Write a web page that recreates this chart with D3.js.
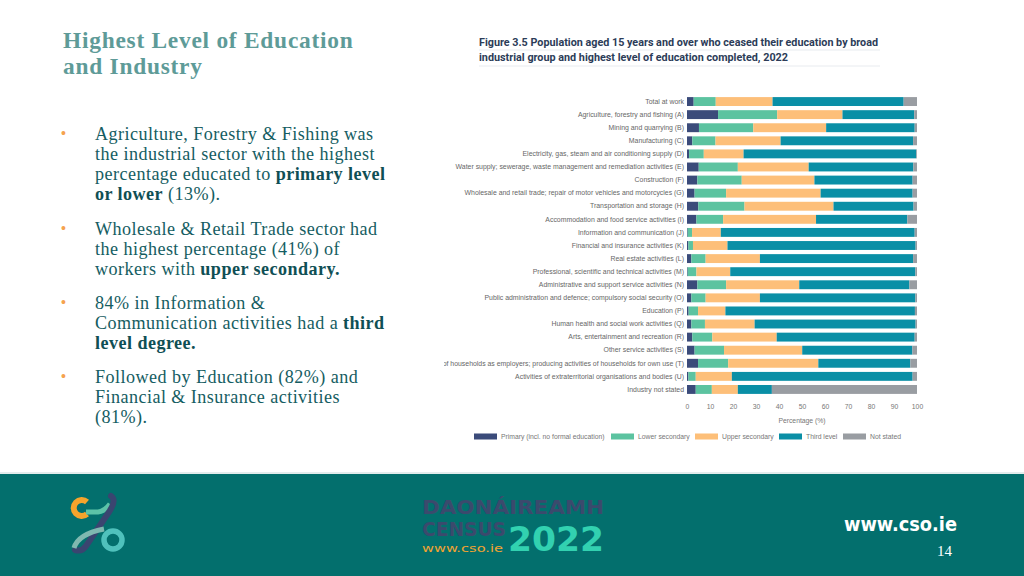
<!DOCTYPE html>
<html><head><meta charset="utf-8">
<script src="https://cdn.jsdelivr.net/npm/d3@7"></script>
<style>
html,body{margin:0;padding:0;background:#fff;}
svg{display:block;}
</style></head>
<body>
<svg id="c" width="1024" height="576"></svg>
<script>
const categories = [
 "Total at work",
 "Agriculture, forestry and fishing (A)",
 "Mining and quarrying (B)",
 "Manufacturing (C)",
 "Electricity, gas, steam and air conditioning supply (D)",
 "Water supply; sewerage, waste management and remediation activities (E)",
 "Construction (F)",
 "Wholesale and retail trade; repair of motor vehicles and motorcycles (G)",
 "Transportation and storage (H)",
 "Accommodation and food service activities (I)",
 "Information and communication (J)",
 "Financial and insurance activities (K)",
 "Real estate activities (L)",
 "Professional, scientific and technical activities (M)",
 "Administrative and support service activities (N)",
 "Public administration and defence; compulsory social security (O)",
 "Education (P)",
 "Human health and social work activities (Q)",
 "Arts, entertainment and recreation (R)",
 "Other service activities (S)",
 "Activities of households as employers; producing activities of households for own use (T)",
 "Activities of extraterritorial organisations and bodies (U)",
 "Industry not stated"
];
const primary   = [2.9,13.5,5.2,2.3,0.9,5.1,4.5,3.3,4.9,4.1,0.3,0.6,1.9,0.3,4.5,1.9,0.7,1.9,2.3,3.3,4.8,0.6,3.8];
const lowerSec  = [9.6,25.7,23.6,10.1,6.4,17.0,19.3,13.7,20.1,11.6,1.9,2.0,6.2,3.8,12.5,6.2,4.1,5.9,8.7,12.8,13.1,3.2,7.0];
const upperSec  = [24.7,28.4,31.7,28.3,17.3,30.8,31.6,41.1,38.7,40.4,12.5,15.0,23.6,14.7,31.8,23.6,11.9,21.6,28.0,34.0,39.2,15.7,11.3];
const thirdLvl  = [57.0,31.2,38.5,57.6,75.1,45.5,42.7,40.0,34.8,39.7,84.3,81.8,66.6,80.5,47.9,67.6,82.4,70.0,60.0,47.9,40.0,78.6,14.8];
const notStated = [5.8,1.2,1.0,1.7,0.3,1.6,1.9,1.9,1.5,4.2,1.0,0.6,1.7,0.7,3.3,0.7,0.9,0.6,1.0,2.0,2.9,1.9,63.1];
const seriesNames = ["Primary (incl. no formal education)","Lower secondary","Upper secondary","Third level","Not stated"];
const seriesColors = ["#3b4b7a","#5cc3a0","#fdbf79","#0a8fa6","#999da2"];
const xTicks = [0,10,20,30,40,50,60,70,80,90,100];

const svg = d3.select("#c");

// ---------- Left text ----------
const teal = "#155d62";
svg.append("text").attr("x",63).attr("y",48).attr("font-family","'Liberation Serif',serif")
  .attr("font-weight","bold").attr("font-size",23.4).attr("letter-spacing",0.75).attr("fill","#5e9b98").text("Highest Level of Education");
svg.append("text").attr("x",63).attr("y",74).attr("font-family","'Liberation Serif',serif")
  .attr("font-weight","bold").attr("font-size",23.4).attr("letter-spacing",0.75).attr("fill","#5e9b98").text("and Industry");

const bullets = [
  {y:140, lines:[[["Agriculture, Forestry & Fishing was",0]],[["the industrial sector with the highest",0]],[["percentage educated to ",0],["primary level",1]],[["or lower",1],[" (13%).",0]]]},
  {y:235, lines:[[["Wholesale & Retail Trade sector had",0]],[["the highest percentage (41%) of",0]],[["workers with ",0],["upper secondary.",1]]]},
  {y:309, lines:[[["84% in Information &",0]],[["Communication activities had a ",0],["third",1]],[["level degree.",1]]]},
  {y:383, lines:[[["Followed by Education (82%) and",0]],[["Financial & Insurance activities",0]],[["(81%).",0]]]}
];
bullets.forEach(b=>{
  svg.append("text").attr("x",61).attr("y",b.y-2).attr("font-family","'Liberation Sans',sans-serif")
    .attr("font-size",14).attr("fill","#f5a24e").text("•");
  b.lines.forEach((ln,i)=>{
    const t = svg.append("text").attr("x",95).attr("y",b.y+i*20).attr("font-family","'Liberation Serif',serif")
      .attr("font-size",18.1).attr("letter-spacing",0.45).attr("fill",teal);
    ln.forEach(([s,bold])=>{
      t.append("tspan").attr("font-weight",bold?"bold":"normal").attr("fill",bold?"#0f4f55":teal).text(s);
    });
  });
});

// ---------- Chart title ----------
svg.append("text").attr("x",479).attr("y",46).attr("font-family","Roboto,sans-serif").attr("font-weight","bold")
  .attr("font-size",11).attr("fill","#2c3c58").attr("textLength",399).attr("lengthAdjust","spacingAndGlyphs")
  .text("Figure 3.5 Population aged 15 years and over who ceased their education by broad");
svg.append("text").attr("x",479).attr("y",61).attr("font-family","Roboto,sans-serif").attr("font-weight","bold")
  .attr("font-size",11).attr("fill","#2c3c58").attr("textLength",309).attr("lengthAdjust","spacingAndGlyphs")
  .text("industrial group and highest level of education completed, 2022");
svg.append("line").attr("x1",479).attr("x2",880).attr("y1",50).attr("y2",50).attr("stroke","#e8ebef");
svg.append("line").attr("x1",479).attr("x2",880).attr("y1",66).attr("y2",66).attr("stroke","#e8ebef");

// ---------- Chart ----------
const x = d3.scaleLinear().domain([0,100]).range([687,917]);
const y = d3.scaleBand().domain(categories).range([95,396]).paddingInner(0.32).paddingOuter(0.16);

const rows = categories.map((c,i)=>({cat:c, s0:primary[i], s1:lowerSec[i], s2:upperSec[i], s3:thirdLvl[i], s4:notStated[i]}));
const stack = d3.stack().keys(["s0","s1","s2","s3","s4"])(rows);

const g = svg.append("g");
g.selectAll("g.s").data(stack).join("g").attr("fill",(d,i)=>seriesColors[i])
  .selectAll("rect").data(d=>d).join("rect")
  .attr("x",d=>x(d[0])).attr("width",d=>Math.max(0,x(d[1])-x(d[0])))
  .attr("y",d=>y(d.data.cat)).attr("height",y.bandwidth());

// category labels via axis (clipped at left like the reference)
svg.append("clipPath").attr("id","lc").append("rect").attr("x",444).attr("y",80).attr("width",245).attr("height",330);
const yWrap = svg.append("g").attr("clip-path","url(#lc)");
const yAxis = yWrap.append("g").attr("transform","translate(684,0)")
  .call(d3.axisLeft(y).tickSize(0).tickPadding(0));
yAxis.select(".domain").remove();
yAxis.selectAll("text").attr("font-family","'Liberation Sans',Arial,sans-serif").attr("font-size",6.9).attr("fill","#666");

// x axis
const xAxis = svg.append("g").attr("transform","translate(0,399)")
  .call(d3.axisBottom(x).tickValues(xTicks).tickSize(0).tickPadding(5));
xAxis.select(".domain").remove();
xAxis.selectAll("text").attr("font-family","'Liberation Sans',Arial,sans-serif").attr("font-size",6.8).attr("fill","#777");
svg.append("text").attr("x",802).attr("y",423).attr("text-anchor","middle").attr("font-family","'Liberation Sans',Arial,sans-serif")
  .attr("font-size",6.8).attr("fill","#777").text("Percentage (%)");

// legend
const legX = [474,611,695,779,843];
const leg = svg.append("g");
seriesNames.forEach((n,i)=>{
  leg.append("rect").attr("x",legX[i]).attr("y",433.5).attr("width",23).attr("height",6).attr("fill",seriesColors[i]);
  leg.append("text").attr("x",legX[i]+27).attr("y",439.2).attr("font-family","'Liberation Sans',Arial,sans-serif")
    .attr("font-size",6.8).attr("fill","#777").text(n);
});

// ---------- Footer ----------
svg.append("rect").attr("x",0).attr("y",472).attr("width",1024).attr("height",2).attr("fill","#e3ecec");
svg.append("rect").attr("x",0).attr("y",474).attr("width",1024).attr("height",102).attr("fill","#036f6d");

// CSO logo (approximation)
const lg = svg.append("g");
lg.append("path").attr("d","M87,502 A8,8 0 1 0 87,514").attr("fill","none").attr("stroke","#f5a42c").attr("stroke-width",6);
lg.append("path").attr("d","M86,512 L98,512 Q105,511 110,504").attr("fill","none").attr("stroke","#5cc3a8").attr("stroke-width",5);
lg.append("path").attr("d","M111,496 Q117,500 109,512 L86,546 Q82,552 75,550").attr("fill","none").attr("stroke","#3a4570").attr("stroke-width",6).attr("stroke-linecap","round");
lg.append("path").attr("d","M74,548 Q78,534 104,529").attr("fill","none").attr("stroke","#7fb8b0").attr("stroke-width",5);
lg.append("circle").attr("cx",113).attr("cy",540).attr("r",9).attr("fill","none").attr("stroke","#4fc1bc").attr("stroke-width",5.5);

// Census logo
const cf = "'DejaVu Sans Condensed','DejaVu Sans',sans-serif";
svg.append("text").attr("x",422).attr("y",514).attr("font-family",cf).attr("font-weight","bold")
  .attr("font-size",20).attr("fill","#3b4a6d").attr("textLength",182).attr("lengthAdjust","spacingAndGlyphs").text("DAONÁIREAMH");
svg.append("text").attr("x",422).attr("y",536).attr("font-family",cf).attr("font-weight","bold")
  .attr("font-size",19).attr("fill","#3b4a6d").attr("textLength",84).attr("lengthAdjust","spacingAndGlyphs").text("CENSUS");
svg.append("text").attr("x",508).attr("y",551).attr("font-family",cf).attr("font-weight","bold")
  .attr("font-size",34).attr("fill","#32d1b0").attr("textLength",96).attr("lengthAdjust","spacingAndGlyphs").text("2022");
svg.append("text").attr("x",422).attr("y",552).attr("font-family",cf)
  .attr("font-size",10.5).attr("fill","#f3a431").attr("textLength",81).attr("lengthAdjust","spacingAndGlyphs").text("www.cso.ie");

svg.append("text").attr("x",844).attr("y",531).attr("font-family",cf).attr("font-weight","bold")
  .attr("font-size",20).attr("fill","#fff").attr("textLength",113).attr("lengthAdjust","spacingAndGlyphs").text("www.cso.ie");
svg.append("text").attr("x",937).attr("y",556).attr("font-family","'Liberation Serif',serif")
  .attr("font-size",15).attr("fill","#fff").text("14");
</script>
</body></html>
